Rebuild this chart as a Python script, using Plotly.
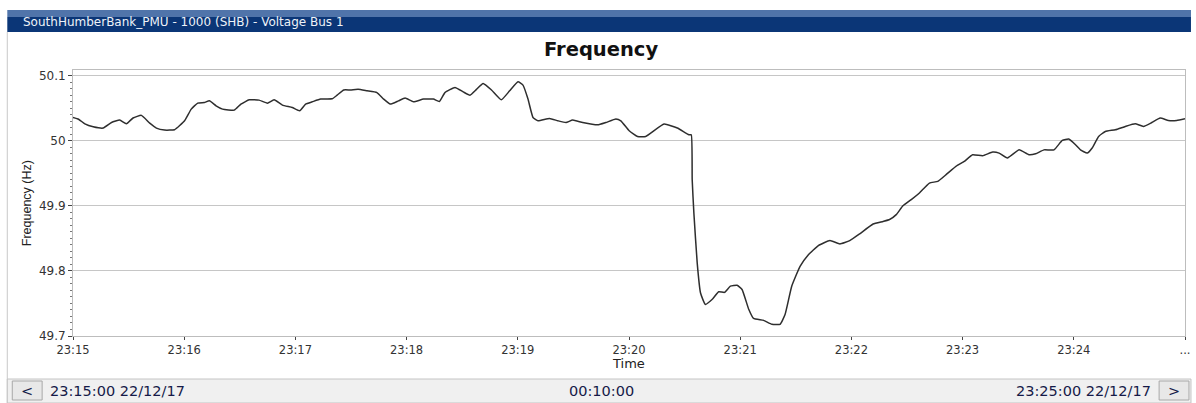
import pandas as pd
import plotly.graph_objects as go

# Seconds after 23:15:00 and measured frequency (Hz)
t_sec = [0, 3, 6.4, 10.9, 16.3, 20.8, 25.2, 28.8, 32.4, 36.9, 41.4, 45.0, 49.4, 54.8,
         60.2, 63.8, 67.3, 70.9, 73.6, 77.2, 80.7, 87.0, 90.6, 95.1, 100.4, 104.9, 108.5,
         113.0, 118.3, 122.3, 125.5, 129.1, 133.6, 139.8, 142.5, 146.1, 149.7, 153.8,
         158.6, 164.0, 167.6, 171.2, 175.6, 179.2, 183.7, 189.1, 194.5, 197.7, 200.7,
         206.1, 210.6, 214.2, 217.7, 221.3, 225.8, 231.1, 235.6, 240.1, 242.8, 245.5,
         248.2, 250.9, 257.1, 261.6, 266.0, 269.6, 275.0, 283.1, 287.5, 292.9, 295.6,
         300.1, 304.6, 309.0, 318.9, 326.1, 332.3, 333.6, 334.1, 335.0, 336.8, 338.6,
         341.2, 344.8, 348.4, 351.5, 354.7, 358.3, 361.0, 364.6, 367.2, 372.6, 377.1,
         381.5, 384.2, 387.8, 392.3, 396.8, 402.2, 408.4, 413.8, 419.1, 424.5, 431.7,
         437.1, 440.6, 444.2, 447.8, 452.3, 456.7, 462.1, 466.6, 471.1, 476.4, 480.9,
         485.4, 490.8, 496.2, 499.7, 504.2, 510.5, 515.8, 519.4, 523.9, 529.3, 533.8,
         537.3, 540.9, 543.6, 547.2, 549.9, 553.4, 557.0, 562.4, 567.8, 573.1, 577.6,
         582.1, 586.6, 591.0, 595.5, 600.0]
freq_hz = [50.0357, 50.033, 50.026, 50.0215, 50.0195, 50.028, 50.0317, 50.026, 50.035,
           50.039, 50.027, 50.0195, 50.0164, 50.017, 50.0307, 50.0486, 50.0578, 50.0588,
           50.0613, 50.0537, 50.0486, 50.047, 50.0563, 50.0629, 50.0624, 50.0578, 50.0629,
           50.0548, 50.0511, 50.046, 50.0563, 50.0598, 50.064, 50.0644, 50.070, 50.078,
           50.078, 50.079, 50.0767, 50.074, 50.064, 50.0563, 50.0613, 50.0655, 50.0598,
           50.064, 50.064, 50.0603, 50.074, 50.0818, 50.075, 50.070, 50.079, 50.0879,
           50.078, 50.0629, 50.0767, 50.0905, 50.0854, 50.064, 50.0357, 50.0307, 50.0342,
           50.0307, 50.028, 50.0317, 50.028, 50.0245, 50.028, 50.0333, 50.0307, 50.0153,
           50.0066, 50.0066, 50.0256, 50.0195, 50.0092, 50.0092, 49.940, 49.889, 49.8124,
           49.766, 49.7485, 49.756, 49.768, 49.767, 49.7765, 49.778, 49.7715, 49.741,
           49.727, 49.724, 49.718, 49.718, 49.733, 49.7765, 49.807, 49.825, 49.839,
           49.8466, 49.8415, 49.8466, 49.857, 49.872, 49.876, 49.879, 49.8865, 49.900,
           49.9095, 49.9198, 49.935, 49.9376, 49.948, 49.9606, 49.9683, 49.9785, 49.977,
           49.9826, 49.981, 49.9735, 49.986, 49.9785, 49.980, 49.986, 49.986, 50.0005,
           50.0026, 49.9939, 49.986, 49.981, 49.9888, 50.0066, 50.0143, 50.0169, 50.022,
           50.026, 50.022, 50.028, 50.0348, 50.0311, 50.0311, 50.0337]

x_tick_labels = ["23:15", "23:16", "23:17", "23:18", "23:19", "23:20",
                 "23:21", "23:22", "23:23", "23:24", "..."]
y_tick_vals = [49.7, 49.8, 49.9, 50.0, 50.1]
y_tick_labels = ["49.7", "49.8", "49.9", "50", "50.1"]

header_text = "SouthHumberBank_PMU - 1000 (SHB) - Voltage Bus 1"
start_text = "23:15:00 22/12/17"
span_text = "00:10:00"
end_text = "23:25:00 22/12/17"

start = pd.Timestamp("2017-12-22 23:15:00")
x = start + pd.to_timedelta(t_sec, unit="s")
x_tick_vals = [start + pd.Timedelta(minutes=i) for i in range(len(x_tick_labels))]

W, H = 1196, 403
ML, MR, MT, MB = 73, 6, 70, 67
PW, PH = W - ML - MR, H - MT - MB


def fx(px):
    return (px - ML) / PW


def fy(py):
    return (H - MB - py) / PH


fig = go.Figure()
fig.add_trace(go.Scatter(
    x=x, y=freq_hz, mode="lines",
    line=dict(color="#2e2e2e", width=1.5, shape="spline", smoothing=0.4),
    hoverinfo="skip", showlegend=False,
))

shapes = []
# panel header bar
shapes.append(dict(type="rect", xref="paper", yref="paper",
                   x0=fx(7), x1=fx(W), y0=fy(17), y1=fy(10),
                   fillcolor="#5074aa", line=dict(width=0), layer="above"))
shapes.append(dict(type="rect", xref="paper", yref="paper",
                   x0=fx(7), x1=fx(W), y0=fy(32), y1=fy(17),
                   fillcolor="#0b3677", line=dict(width=0), layer="above"))
# panel left border
shapes.append(dict(type="line", xref="paper", yref="paper",
                   x0=fx(7), x1=fx(7), y0=fy(H), y1=fy(32),
                   line=dict(color="#c8c8c8", width=1)))
# navigation bar
shapes.append(dict(type="rect", xref="paper", yref="paper",
                   x0=fx(7), x1=fx(W), y0=fy(H), y1=fy(379),
                   fillcolor="#f0f0f0", line=dict(color="#c4c4c4", width=1)))
shapes.append(dict(type="rect", xref="paper", yref="paper",
                   x0=fx(12), x1=fx(42), y0=fy(400), y1=fy(381),
                   fillcolor="#e8e8e8", line=dict(color="#a8a8a8", width=1)))
shapes.append(dict(type="rect", xref="paper", yref="paper",
                   x0=fx(1164), x1=fx(1194), y0=fy(400), y1=fy(381),
                   fillcolor="#e8e8e8", line=dict(color="#a8a8a8", width=1)))

ann = []
ann.append(dict(text=header_text, xref="paper", yref="paper", x=fx(21), y=fy(22),
                xanchor="left", yanchor="middle", showarrow=False,
                font=dict(family="DejaVu Sans", size=12, color="#eef2f8")))
ann.append(dict(text="<b>Frequency</b>", xref="paper", yref="paper", x=fx(603), y=fy(50),
                xanchor="center", yanchor="middle", showarrow=False,
                font=dict(family="DejaVu Sans", size=19.5, color="#111111")))
ann.append(dict(text="Frequency (Hz)", xref="paper", yref="paper", x=fx(27), y=fy(203),
                xanchor="center", yanchor="middle", textangle=-90, showarrow=False,
                font=dict(family="Liberation Sans Narrow, Liberation Sans", size=12.5,
                          color="#222222")))
ann.append(dict(text="Time", xref="paper", yref="paper", x=fx(631), y=fy(363.5),
                xanchor="center", yanchor="middle", showarrow=False,
                font=dict(family="DejaVu Sans", size=13, color="#222222")))
nav_font = dict(family="DejaVu Sans", size=14.5, color="#161a48")
ann.append(dict(text="<", xref="paper", yref="paper", x=fx(27), y=fy(391),
                xanchor="center", yanchor="middle", showarrow=False, font=nav_font))
ann.append(dict(text=">", xref="paper", yref="paper", x=fx(1179), y=fy(391),
                xanchor="center", yanchor="middle", showarrow=False, font=nav_font))
ann.append(dict(text=start_text, xref="paper", yref="paper", x=fx(48), y=fy(391),
                xanchor="left", yanchor="middle", showarrow=False, font=nav_font))
ann.append(dict(text=span_text, xref="paper", yref="paper", x=fx(604), y=fy(391),
                xanchor="center", yanchor="middle", showarrow=False, font=nav_font))
ann.append(dict(text=end_text, xref="paper", yref="paper", x=fx(1158), y=fy(391),
                xanchor="right", yanchor="middle", showarrow=False, font=nav_font))

x_tick_font = dict(family="DejaVu Sans", size=11.5, color="#333333")
y_tick_font = dict(family="DejaVu Sans", size=12, color="#333333")

fig.update_layout(
    width=W, height=H,
    margin=dict(l=ML, r=MR, t=MT, b=MB, pad=0),
    paper_bgcolor="white", plot_bgcolor="white",
    shapes=shapes, annotations=ann,
    xaxis=dict(
        range=[x_tick_vals[0], x_tick_vals[-1]],
        tickvals=x_tick_vals, ticktext=x_tick_labels,
        ticks="outside", ticklen=3, tickcolor="#444444", tickwidth=1,
        showgrid=False, zeroline=False,
        showline=True, linecolor="#bdbdbd", linewidth=1, mirror=True,
        tickfont=x_tick_font,
    ),
    yaxis=dict(
        range=[49.7, 50.1087],
        tickvals=y_tick_vals, ticktext=y_tick_labels,
        ticks="outside", ticklen=4, tickcolor="#444444", tickwidth=1,
        minor=dict(dtick=0.01, tick0=49.7, ticks="outside", ticklen=2,
                   tickcolor="#777777", showgrid=False),
        showgrid=True, gridcolor="#c6c6c6", gridwidth=1,
        zeroline=False,
        showline=True, linecolor="#bdbdbd", linewidth=1, mirror=True,
        tickfont=y_tick_font,
    ),
)

fig.write_html("out.html")
